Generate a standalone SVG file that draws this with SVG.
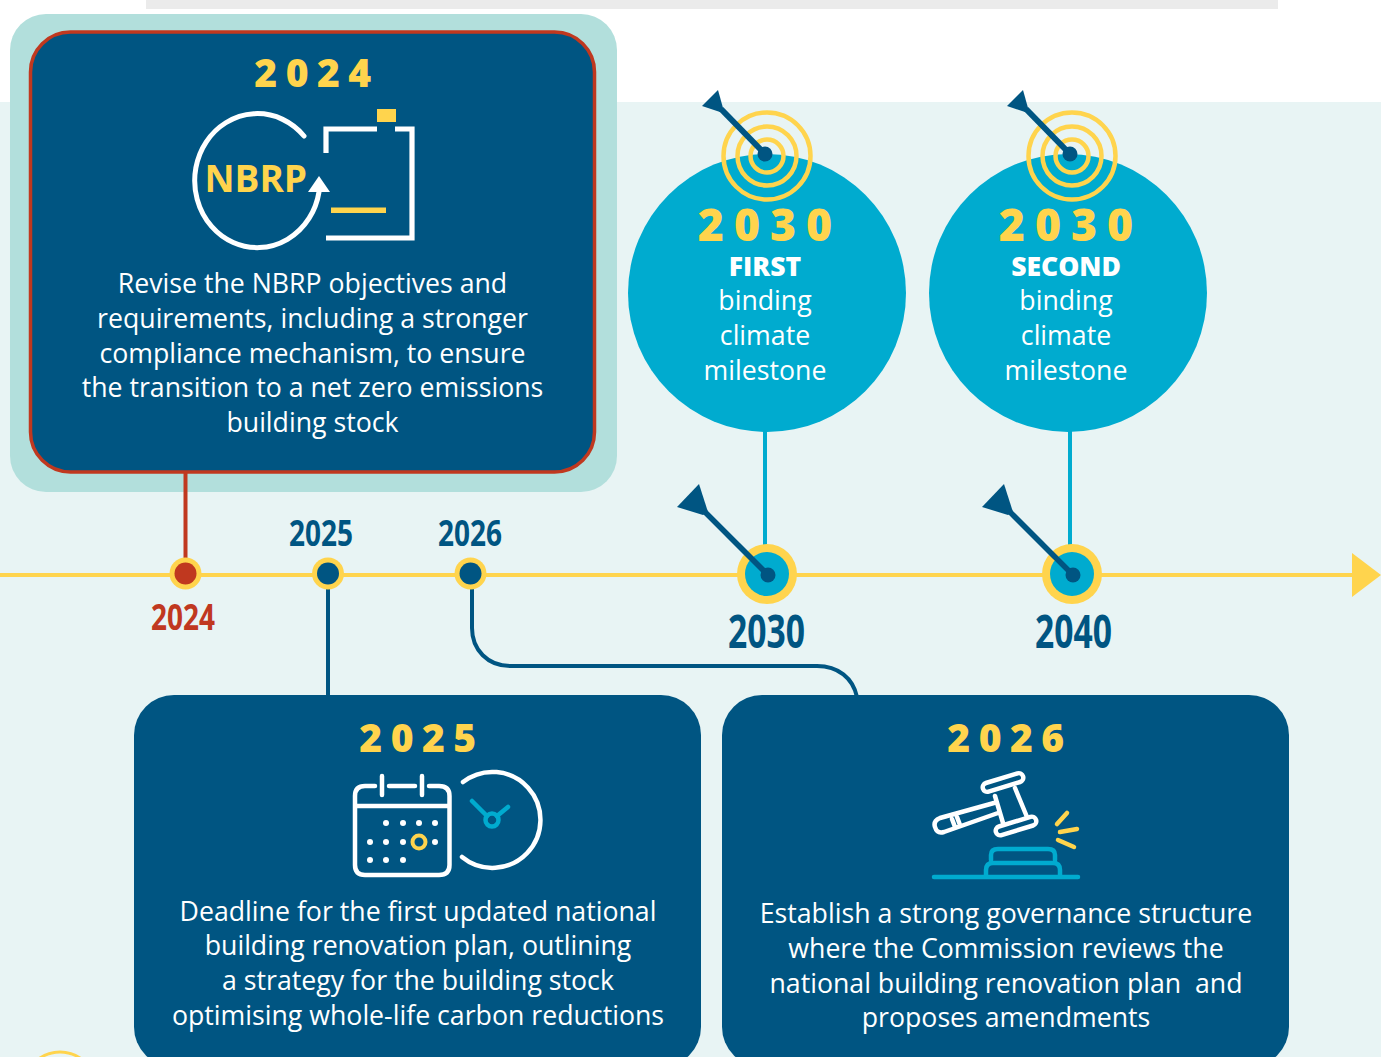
<svg xmlns="http://www.w3.org/2000/svg" width="1381" height="1057" viewBox="0 0 1381 1057">
<defs><style>
text{font-family:"Open Sans","Liberation Sans",sans-serif}
.body{font-size:26.7px;fill:#fff;text-anchor:middle}
.yr{font-size:39px;font-weight:800;fill:#ffd44d;text-anchor:middle;letter-spacing:8.5px}
.yr2{font-size:44.5px;font-weight:800;fill:#ffd44d;text-anchor:middle;letter-spacing:10px}
.lab{font-weight:700;fill:#005582}
.box{fill:#005582}
.w{fill:none;stroke:#fff;stroke-width:4.5;stroke-linecap:round;stroke-linejoin:round}
.a{stroke-width:5}
.c{fill:none;stroke:#00abcf;stroke-width:4.5;stroke-linecap:round}
.y{fill:none;stroke:#ffd44d;stroke-width:4.5;stroke-linecap:round}
.ring{fill:none;stroke:#ffd44d;stroke-width:4.5}
.dots circle{fill:#fff;r:3px}
.ln{fill:none;stroke-width:4}
</style></defs>
<rect width="1381" height="1057" fill="#fff"/>
<rect y="102" width="1381" height="955" fill="#e8f4f4"/>
<rect x="146" width="1132" height="9" fill="#ebebeb"/>
<circle cx="60" cy="1088" r="36" fill="none" stroke="#ffd44d" stroke-width="3"/>
<g id="node-2024">
<rect x="10" y="14" width="607" height="478" rx="36" fill="#b2dfdc"/>
<rect x="30.500" y="32" width="564" height="440" rx="40" class="box" stroke="#c0381f" stroke-width="3.500"/>
<text class="yr" x="317" y="87">2024</text>
<path class="w a" d="M304 136A62.600 67 0 1 0 319 192"/>
<polygon points="308,192 319,176 330,192" fill="#fff"/>
<text x="204.500" y="192" font-size="37" font-weight="700" fill="#ffd44d">NBRP</text>
<path d="M326 153V129H377M395 129H412V238H326" fill="none" stroke="#fff" stroke-width="5.200"/>
<rect x="377" y="109" width="19" height="13" fill="#ffd44d"/>
<rect x="331" y="207.500" width="55" height="5.500" fill="#ffd44d"/>
<text class="body" x="312.500" y="293">Revise the NBRP objectives and</text>
<text class="body" x="312.500" y="328">requirements, including a stronger</text>
<text class="body" x="312.500" y="363">compliance mechanism, to ensure</text>
<text class="body" x="312.500" y="397">the transition to a net zero emissions</text>
<text class="body" x="312.500" y="432">building stock</text>
</g>
<g id="connectors">
<line class="ln" x1="0" y1="575" x2="1355" y2="575" stroke="#ffd44d"/>
<polygon points="1352,553 1381,575 1352,597" fill="#ffd44d"/>
<line class="ln" x1="185.500" y1="473" x2="185.500" y2="570" stroke="#c0381f"/>
<line class="ln" x1="328" y1="575" x2="328" y2="697" stroke="#005582"/>
<path class="ln" d="M472 575V628C472 650 488 666 510 666H817C838 666 853 678 857 697" stroke="#005582"/>
<line class="ln" x1="765" y1="430" x2="765" y2="550" stroke="#00abcf"/>
<line class="ln" x1="1070" y1="430" x2="1070" y2="550" stroke="#00abcf"/>
</g>
<g id="node-2030-first">
<circle cx="767" cy="293" r="139" fill="#00abcf"/>
<circle class="ring" cx="767" cy="156" r="43.500"/><circle class="ring" cx="767" cy="156" r="29.500"/><circle class="ring" cx="767" cy="156" r="16.500"/>
<line x1="765" y1="154" x2="721" y2="109" stroke="#005582" stroke-width="6"/>
<polygon points="702,106 718,90 723,108 720,112" fill="#005582"/>
<circle cx="765" cy="154" r="7.500" fill="#005582"/>
<text class="yr2" x="770" y="241">2030</text>
<text x="765" y="276" font-size="26.500" font-weight="800" fill="#fff" text-anchor="middle">FIRST</text>
<text class="body" x="765" y="310">binding</text>
<text class="body" x="765" y="345">climate</text>
<text class="body" x="765" y="380">milestone</text>
</g>
<g id="node-2030-second">
<circle cx="1068" cy="293" r="139" fill="#00abcf"/>
<circle class="ring" cx="1072" cy="156" r="43.500"/><circle class="ring" cx="1072" cy="156" r="29.500"/><circle class="ring" cx="1072" cy="156" r="16.500"/>
<line x1="1070" y1="154" x2="1026" y2="109" stroke="#005582" stroke-width="6"/>
<polygon points="1007,106 1023,90 1028,108 1025,112" fill="#005582"/>
<circle cx="1070" cy="154" r="7.500" fill="#005582"/>
<text class="yr2" x="1071" y="241">2030</text>
<text x="1066" y="276" font-size="26.500" font-weight="800" fill="#fff" text-anchor="middle">SECOND</text>
<text class="body" x="1066" y="310">binding</text>
<text class="body" x="1066" y="345">climate</text>
<text class="body" x="1066" y="380">milestone</text>
</g>
<g id="marker-2024">
<circle cx="185.500" cy="573.500" r="16" fill="#ffd44d"/><circle cx="185.500" cy="573.500" r="11" fill="#c0381f"/>
<text x="151" y="630" font-size="36" font-weight="700" fill="#c0381f" textLength="64" lengthAdjust="spacingAndGlyphs">2024</text>
</g>
<g id="marker-2025">
<circle cx="328" cy="573.500" r="16" fill="#ffd44d"/><circle cx="328" cy="573.500" r="11" fill="#005582"/>
<text class="lab" x="289" y="546" font-size="36" textLength="64" lengthAdjust="spacingAndGlyphs">2025</text>
</g>
<g id="marker-2026">
<circle cx="470.500" cy="573.500" r="16" fill="#ffd44d"/><circle cx="470.500" cy="573.500" r="11" fill="#005582"/>
<text class="lab" x="438" y="546" font-size="36" textLength="64" lengthAdjust="spacingAndGlyphs">2026</text>
</g>
<g id="marker-2030">
<circle cx="767" cy="574" r="30" fill="#ffd44d"/><circle cx="767" cy="574" r="22" fill="#00abcf"/>
<line x1="767" y1="574" x2="705" y2="512" stroke="#005582" stroke-width="5.500"/>
<polygon points="677,507 699,484 708,512 703,515" fill="#005582"/>
<circle cx="768" cy="575" r="7.500" fill="#005582"/>
<text class="lab" x="728" y="648" font-size="46" textLength="77" lengthAdjust="spacingAndGlyphs">2030</text>
</g>
<g id="marker-2040">
<circle cx="1072" cy="574" r="30" fill="#ffd44d"/><circle cx="1072" cy="574" r="22" fill="#00abcf"/>
<line x1="1072" y1="574" x2="1010" y2="512" stroke="#005582" stroke-width="5.500"/>
<polygon points="982,507 1004,484 1013,512 1008,515" fill="#005582"/>
<circle cx="1073" cy="575" r="7.500" fill="#005582"/>
<text class="lab" x="1035" y="648" font-size="46" textLength="77" lengthAdjust="spacingAndGlyphs">2040</text>
</g>
<g id="node-2025">
<rect x="134" y="695" width="567" height="372" rx="40" class="box"/>
<text class="yr" x="422" y="752">2025</text>
<path class="w" d="M375 786H365Q355 786 355 796V865Q355 875 365 875H439Q449.500 875 449.500 865V796Q449.500 786 439 786H429M389 786H415M355 806H449.500M382 776V795M422 776V795"/>
<g class="dots"><circle cx="386" cy="823"/><circle cx="403" cy="823"/><circle cx="419" cy="823"/><circle cx="435" cy="823"/><circle cx="370" cy="842"/><circle cx="386" cy="842"/><circle cx="403" cy="842"/><circle cx="435" cy="842"/><circle cx="370" cy="860"/><circle cx="386" cy="860"/><circle cx="403" cy="860"/></g>
<circle cx="419" cy="842" r="6.500" fill="none" stroke="#ffd44d" stroke-width="4"/>
<path class="w" d="M463 782A48 48 0 1 1 462 857" stroke-linecap="butt"/>
<circle cx="492" cy="820" r="6.500" class="c"/>
<path class="c" d="M472 801L487 816M508 807L497 816"/>
<text class="body" x="418" y="921">Deadline for the first updated national</text>
<text class="body" x="418" y="955">building renovation plan, outlining</text>
<text class="body" x="418" y="990">a strategy for the building stock</text>
<text class="body" x="418" y="1025">optimising whole-life carbon reductions</text>
</g>
<g id="node-2026">
<rect x="722" y="695" width="567" height="372" rx="40" class="box"/>
<text class="yr" x="1010" y="752">2026</text>
<g class="w">
<rect x="982" y="778" width="42" height="9" rx="4.500" transform="rotate(-17 1003 782.500)"/>
<rect x="995" y="821.500" width="42" height="9" rx="4.500" transform="rotate(-17 1016 826)"/>
<path d="M995 796L1003 823M1015 788L1027 817M994 803L940 818Q933 821 935 827Q937 834 944 832L998 813M952 819L955 827M957 817L960 825"/>
</g>
<path class="c" d="M986 875V870Q986 863 993 863H1053Q1060 863 1060 870V875M991 860V855Q991 849 998 849H1048Q1055 849 1055 855V860M934 877H1078"/>
<path class="y" d="M1057 824L1067 813M1060 832L1077 829M1058 840L1074 847"/>
<text class="body" x="1006" y="923">Establish a strong governance structure</text>
<text class="body" x="1006" y="958">where the Commission reviews the</text>
<text class="body" x="1006" y="993" style="white-space:pre">national building renovation plan  and</text>
<text class="body" x="1006" y="1027">proposes amendments</text>
</g>
</svg>
